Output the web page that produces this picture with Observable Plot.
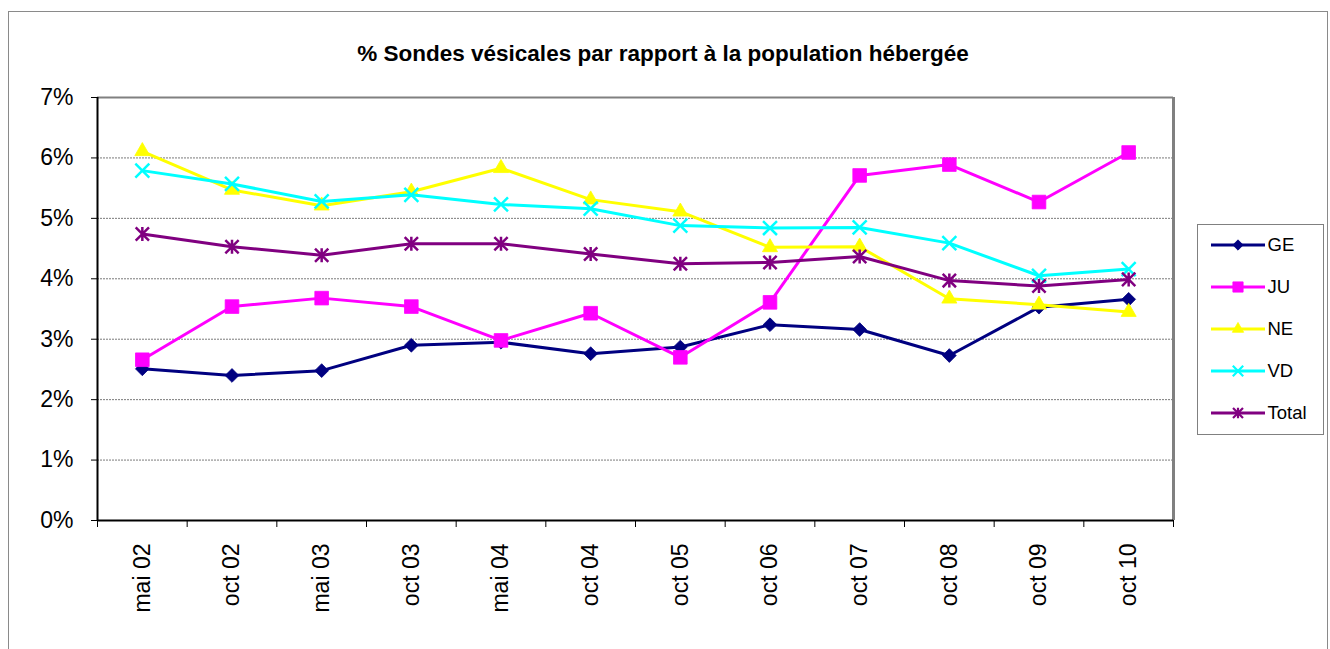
<!DOCTYPE html>
<html><head><meta charset="utf-8">
<script src="https://cdn.jsdelivr.net/npm/d3@7"></script>
<script src="https://cdn.jsdelivr.net/npm/@observablehq/plot@0.6"></script>
<style>
html,body{margin:0;padding:0;background:#fff;overflow:hidden;}
#wrap{position:relative;width:1330px;height:649px;font-family:"Liberation Sans",Arial,sans-serif;color:#000;}
#frame{position:absolute;left:8px;top:11px;width:1320px;height:660px;border:1.5px solid #8a8a8a;box-sizing:border-box;}
#title{position:absolute;left:0;width:1326px;top:41px;line-height:26px;font-size:22.5px;font-weight:bold;text-align:center;}
#chart{position:absolute;left:0;top:0;}
#legend{position:absolute;left:1197px;top:224px;width:127px;height:211px;border:1.5px solid #808080;box-sizing:border-box;background:#fff;}
.row{position:absolute;left:12.5px;height:20px;display:flex;align-items:center;}
.row span{font-size:18.5px;margin-left:3px;line-height:20px;}
</style></head>
<body>
<div id="wrap">
  <div id="frame"></div>
  <div id="chart"></div>
  <div id="title">% Sondes vésicales par rapport à la population hébergée</div>
  <div id="legend"></div>
</div>
<script>
const categories = ["mai 02","oct 02","mai 03","oct 03","mai 04","oct 04","oct 05","oct 06","oct 07","oct 08","oct 09","oct 10"];
const GE    = [2.51,2.40,2.48,2.90,2.95,2.76,2.87,3.24,3.16,2.73,3.53,3.66];
const JU    = [2.66,3.54,3.68,3.54,2.98,3.43,2.70,3.61,5.71,5.89,5.27,6.09];
const NE    = [6.11,5.47,5.21,5.44,5.83,5.31,5.11,4.52,4.53,3.67,3.57,3.45];
const VD    = [5.79,5.57,5.28,5.39,5.23,5.16,4.88,4.84,4.85,4.59,4.05,4.16];
const Total = [4.74,4.53,4.39,4.58,4.58,4.41,4.25,4.27,4.37,3.97,3.88,3.99];
const yTicks = [0,1,2,3,4,5,6,7];
const seriesNames = ["GE","JU","NE","VD","Total"];
const seriesColors = ["#000080","#FF00FF","#FFFF00","#00FFFF","#800080"];

// Excel-style asterisk: X plus vertical bar
const asterisk = {
  draw(ctx, size) {
    const r = Math.sqrt(size / Math.PI);
    const d = r * 0.95;
    ctx.moveTo(-d, -d); ctx.lineTo(d, d);
    ctx.moveTo(-d, d); ctx.lineTo(d, -d);
    ctx.moveTo(0, -r); ctx.lineTo(0, r);
  }
};

const seriesValues = [GE, JU, NE, VD, Total];
const symbols = [d3.symbolDiamond2, d3.symbolSquare, d3.symbolTriangle, d3.symbolTimes, asterisk];
const radii = [6.2, 7.7, 5.6, 6.4, 7];
const filled = [true, true, true, false, false];

const series = seriesNames.map((name, k) => ({
  name, color: seriesColors[k], values: seriesValues[k],
  symbol: symbols[k], r: radii[k], filled: filled[k]
}));

const xDomain = [-0.5, categories.length - 0.5];

const seriesMarks = series.flatMap(s => {
  const rows = s.values.map((v, i) => ({series: s.name, i, value: v}));
  return [
    Plot.line(rows, {x: "i", y: "value", stroke: s.color, strokeWidth: 3}),
    Plot.dot(rows, {
      x: "i", y: "value", symbol: s.symbol, r: s.r,
      fill: s.filled ? s.color : "none",
      stroke: s.color,
      strokeWidth: s.filled ? 0.8 : 2.5
    })
  ];
});

const chart = Plot.plot({
  width: 1330, height: 649,
  marginTop: 97, marginLeft: 97, marginRight: 157, marginBottom: 129,
  style: {fontFamily: '"Liberation Sans", Arial, sans-serif', fontSize: "23px", color: "#000", background: "transparent"},
  x: {domain: xDomain},
  y: {domain: [yTicks[0], yTicks[yTicks.length - 1]]},
  marks: [
    Plot.ruleY(yTicks.slice(1, -1), {stroke: "#7a7a7a", strokeWidth: 1, strokeDasharray: "2,1"}),
    Plot.ruleY([yTicks[yTicks.length - 1]], {stroke: "#808080", strokeWidth: 2}),
    Plot.ruleX([xDomain[1]], {stroke: "#808080", strokeWidth: 3}),
    Plot.axisY({ticks: yTicks, tickSize: 6, tickPadding: 18, tickFormat: d => d + "%", label: null, fontSize: 23}),
    Plot.axisX(d3.range(categories.length + 1).map(k => k - 0.5), {tickSize: 7, tickFormat: () => "", label: null}),
    Plot.axisX(d3.range(categories.length), {tickSize: 0, tickPadding: 23, tickRotate: -90, tickFormat: i => categories[i], label: null, fontSize: 23}),
    Plot.ruleX([xDomain[0]], {stroke: "#000", strokeWidth: 2}),
    Plot.ruleY([yTicks[0]], {stroke: "#000", strokeWidth: 2}),
    ...seriesMarks
  ]
});
document.getElementById("chart").appendChild(chart);

// Legend
const legend = document.getElementById("legend");
series.forEach((s, k) => {
  const row = document.createElement("div");
  row.className = "row";
  row.style.top = (19.5 - 10 + k * 42) + "px";
  const svg = d3.create("svg").attr("width", 54).attr("height", 20);
  svg.append("line").attr("x1", 0).attr("x2", 54).attr("y1", 10).attr("y2", 10)
    .attr("stroke", s.color).attr("stroke-width", 3);
  const rr = s.r * 0.75;
  svg.append("path")
    .attr("d", d3.symbol().type(s.symbol).size(Math.PI * rr * rr)())
    .attr("transform", "translate(27,10)")
    .attr("fill", s.filled ? s.color : "none")
    .attr("stroke", s.color)
    .attr("stroke-width", s.filled ? 0.8 : 2.2);
  row.appendChild(svg.node());
  const label = document.createElement("span");
  label.textContent = s.name;
  row.appendChild(label);
  legend.appendChild(row);
});
</script>
</body></html>
